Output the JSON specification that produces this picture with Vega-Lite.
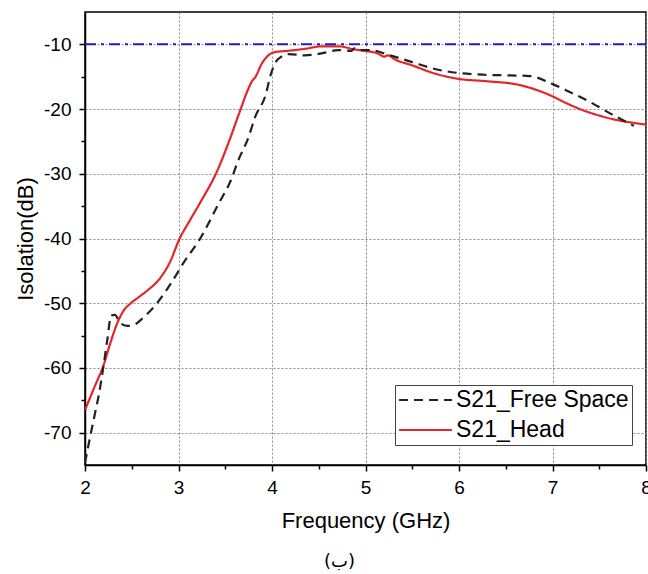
{
  "$schema": "https://vega.github.io/schema/vega-lite/v6.json",
  "autosize": {"type": "none"},
  "padding": {"left": 85, "top": 12, "right": 2, "bottom": 109},
  "width": 561,
  "height": 453,
  "background": "white",
  "config": {
    "font": "Liberation Sans",
    "view": {"stroke": "black", "strokeWidth": 1.5},
    "axis": {
      "domainColor": "black", "domainWidth": 1.5, "tickColor": "black", "tickWidth": 1.5,
      "labelColor": "black", "titleColor": "black", "labelFont": "Liberation Sans", "titleFont": "Liberation Sans",
      "titleFontWeight": "normal", "gridColor": "#8a8a8a", "gridDash": [2, 2], "gridWidth": 1, "gridOpacity": 1
    }
  },
  "title": {"text": "(ب)", "orient": "bottom", "anchor": "middle", "font": "DejaVu Sans", "fontSize": 18, "fontWeight": "normal", "color": "black", "offset": 22, "dx": -26},
  "datasets": {
    "curves": [
      {"f": 2.00, "db": -66.5, "series": "S21_Head"},
      {"f": 2.10, "db": -63.0, "series": "S21_Head"},
      {"f": 2.20, "db": -59.5, "series": "S21_Head"},
      {"f": 2.27, "db": -56.2, "series": "S21_Head"},
      {"f": 2.35, "db": -52.9, "series": "S21_Head"},
      {"f": 2.42, "db": -51.0, "series": "S21_Head"},
      {"f": 2.49, "db": -50.0, "series": "S21_Head"},
      {"f": 2.58, "db": -49.0, "series": "S21_Head"},
      {"f": 2.67, "db": -48.0, "series": "S21_Head"},
      {"f": 2.81, "db": -46.0, "series": "S21_Head"},
      {"f": 2.92, "db": -43.3, "series": "S21_Head"},
      {"f": 3.00, "db": -40.4, "series": "S21_Head"},
      {"f": 3.13, "db": -37.0, "series": "S21_Head"},
      {"f": 3.25, "db": -34.0, "series": "S21_Head"},
      {"f": 3.40, "db": -30.0, "series": "S21_Head"},
      {"f": 3.54, "db": -25.0, "series": "S21_Head"},
      {"f": 3.66, "db": -20.2, "series": "S21_Head"},
      {"f": 3.74, "db": -17.1, "series": "S21_Head"},
      {"f": 3.79, "db": -15.6, "series": "S21_Head"},
      {"f": 3.82, "db": -15.1, "series": "S21_Head"},
      {"f": 3.89, "db": -13.0, "series": "S21_Head"},
      {"f": 3.96, "db": -11.7, "series": "S21_Head"},
      {"f": 4.03, "db": -11.2, "series": "S21_Head"},
      {"f": 4.17, "db": -11.0, "series": "S21_Head"},
      {"f": 4.35, "db": -10.7, "series": "S21_Head"},
      {"f": 4.53, "db": -10.3, "series": "S21_Head"},
      {"f": 4.71, "db": -10.3, "series": "S21_Head"},
      {"f": 4.89, "db": -10.8, "series": "S21_Head"},
      {"f": 4.99, "db": -11.0, "series": "S21_Head"},
      {"f": 5.13, "db": -11.4, "series": "S21_Head"},
      {"f": 5.20, "db": -11.9, "series": "S21_Head"},
      {"f": 5.24, "db": -11.7, "series": "S21_Head"},
      {"f": 5.31, "db": -12.3, "series": "S21_Head"},
      {"f": 5.49, "db": -13.2, "series": "S21_Head"},
      {"f": 5.74, "db": -14.5, "series": "S21_Head"},
      {"f": 5.98, "db": -15.3, "series": "S21_Head"},
      {"f": 6.30, "db": -15.7, "series": "S21_Head"},
      {"f": 6.62, "db": -16.2, "series": "S21_Head"},
      {"f": 6.80, "db": -16.9, "series": "S21_Head"},
      {"f": 6.98, "db": -17.9, "series": "S21_Head"},
      {"f": 7.15, "db": -19.1, "series": "S21_Head"},
      {"f": 7.33, "db": -20.2, "series": "S21_Head"},
      {"f": 7.50, "db": -21.0, "series": "S21_Head"},
      {"f": 7.69, "db": -21.7, "series": "S21_Head"},
      {"f": 7.85, "db": -22.1, "series": "S21_Head"},
      {"f": 8.00, "db": -22.4, "series": "S21_Head"},
      {"f": 2.00, "db": -74.7, "series": "S21_Free Space"},
      {"f": 2.05, "db": -71.0, "series": "S21_Free Space"},
      {"f": 2.10, "db": -67.5, "series": "S21_Free Space"},
      {"f": 2.15, "db": -64.0, "series": "S21_Free Space"},
      {"f": 2.20, "db": -59.5, "series": "S21_Free Space"},
      {"f": 2.24, "db": -55.5, "series": "S21_Free Space"},
      {"f": 2.28, "db": -51.9, "series": "S21_Free Space"},
      {"f": 2.32, "db": -51.8, "series": "S21_Free Space"},
      {"f": 2.38, "db": -53.1, "series": "S21_Free Space"},
      {"f": 2.46, "db": -53.5, "series": "S21_Free Space"},
      {"f": 2.53, "db": -53.3, "series": "S21_Free Space"},
      {"f": 2.61, "db": -52.4, "series": "S21_Free Space"},
      {"f": 2.77, "db": -50.0, "series": "S21_Free Space"},
      {"f": 2.93, "db": -46.7, "series": "S21_Free Space"},
      {"f": 3.06, "db": -43.6, "series": "S21_Free Space"},
      {"f": 3.22, "db": -40.3, "series": "S21_Free Space"},
      {"f": 3.43, "db": -34.6, "series": "S21_Free Space"},
      {"f": 3.56, "db": -31.0, "series": "S21_Free Space"},
      {"f": 3.64, "db": -27.9, "series": "S21_Free Space"},
      {"f": 3.75, "db": -24.3, "series": "S21_Free Space"},
      {"f": 3.82, "db": -21.2, "series": "S21_Free Space"},
      {"f": 3.93, "db": -17.9, "series": "S21_Free Space"},
      {"f": 3.99, "db": -14.5, "series": "S21_Free Space"},
      {"f": 4.05, "db": -12.5, "series": "S21_Free Space"},
      {"f": 4.09, "db": -12.0, "series": "S21_Free Space"},
      {"f": 4.18, "db": -11.5, "series": "S21_Free Space"},
      {"f": 4.35, "db": -11.7, "series": "S21_Free Space"},
      {"f": 4.53, "db": -11.4, "series": "S21_Free Space"},
      {"f": 4.71, "db": -10.9, "series": "S21_Free Space"},
      {"f": 4.85, "db": -11.0, "series": "S21_Free Space"},
      {"f": 4.88, "db": -10.6, "series": "S21_Free Space"},
      {"f": 4.92, "db": -10.9, "series": "S21_Free Space"},
      {"f": 5.06, "db": -10.9, "series": "S21_Free Space"},
      {"f": 5.20, "db": -11.4, "series": "S21_Free Space"},
      {"f": 5.31, "db": -11.9, "series": "S21_Free Space"},
      {"f": 5.49, "db": -12.7, "series": "S21_Free Space"},
      {"f": 5.74, "db": -13.8, "series": "S21_Free Space"},
      {"f": 5.98, "db": -14.4, "series": "S21_Free Space"},
      {"f": 6.27, "db": -14.7, "series": "S21_Free Space"},
      {"f": 6.55, "db": -14.8, "series": "S21_Free Space"},
      {"f": 6.76, "db": -14.9, "series": "S21_Free Space"},
      {"f": 6.98, "db": -16.0, "series": "S21_Free Space"},
      {"f": 7.19, "db": -17.4, "series": "S21_Free Space"},
      {"f": 7.40, "db": -18.9, "series": "S21_Free Space"},
      {"f": 7.62, "db": -20.7, "series": "S21_Free Space"},
      {"f": 7.87, "db": -22.6, "series": "S21_Free Space"}
    ],
    "ref": [{"level": -10}]
  },
  "layer": [
    {
      "data": {"name": "curves"},
      "mark": {"type": "line", "strokeWidth": 2.2, "clip": true, "interpolate": "monotone"},
      "encoding": {
        "x": {
          "field": "f", "type": "quantitative",
          "scale": {"domain": [2, 8], "nice": false, "zero": false},
          "axis": {"orient": "bottom", "values": [2, 3, 4, 5, 6, 7, 8], "labelExpr": "datum.value + ''", "grid": true, "tickSize": 6,
            "labelFontSize": 19, "labelPadding": 7, "labelFlush": false, "title": "Frequency (GHz)", "titleFontSize": 22, "titlePadding": 13}
        },
        "y": {
          "field": "db", "type": "quantitative",
          "scale": {"domain": [-75, -5], "nice": false, "zero": false},
          "axis": {"orient": "left", "values": [-70, -60, -50, -40, -30, -20, -10], "labelExpr": "datum.value + ''", "grid": true, "tickSize": 6,
            "labelFontSize": 19, "labelPadding": 8, "title": "Isolation(dB)", "titleFontSize": 22, "titlePadding": 6}
        },
        "color": {
          "field": "series", "type": "nominal",
          "scale": {"domain": ["S21_Free Space", "S21_Head"], "range": ["#222222", "#e3262c"]},
          "legend": {
            "title": null, "orient": "none", "legendX": 310, "legendY": 373,
            "symbolType": "stroke", "symbolSize": 2800, "symbolStrokeWidth": 2, "clipHeight": 24,
            "labelFontSize": 23, "labelColor": "black", "labelOffset": 3, "rowPadding": 6,
            "strokeColor": "#444444", "fillColor": "white", "padding": 3, "labelLimit": 300
          }
        },
        "strokeDash": {
          "field": "series", "type": "nominal",
          "scale": {"domain": ["S21_Free Space", "S21_Head"], "range": [[9, 6], [1, 0]]},
          "legend": {
            "title": null, "orient": "none", "legendX": 310, "legendY": 373,
            "symbolType": "stroke", "symbolSize": 2800, "symbolStrokeWidth": 2, "clipHeight": 24,
            "labelFontSize": 23, "labelColor": "black", "labelOffset": 3, "rowPadding": 6,
            "strokeColor": "#444444", "fillColor": "white", "padding": 3, "labelLimit": 300
          }
        }
      }
    },
    {
      "data": {"name": "ref"},
      "mark": {"type": "rule", "color": "#1c1cc8", "strokeWidth": 2, "strokeDash": [11, 5, 3, 5]},
      "encoding": {
        "y": {
          "field": "level", "type": "quantitative",
          "axis": {"orient": "left", "values": [-65, -55, -45, -35, -25, -15], "labels": false, "grid": false, "domain": false, "tickSize": 4, "title": null}
        },
        "x": {
          "datum": 2, "type": "quantitative",
          "axis": {"orient": "bottom", "values": [2.5, 3.5, 4.5, 5.5, 6.5, 7.5], "labels": false, "grid": false, "domain": false, "tickSize": 4, "title": null}
        },
        "x2": {"datum": 8}
      }
    }
  ],
  "resolve": {"axis": {"x": "independent", "y": "independent"}}
}
